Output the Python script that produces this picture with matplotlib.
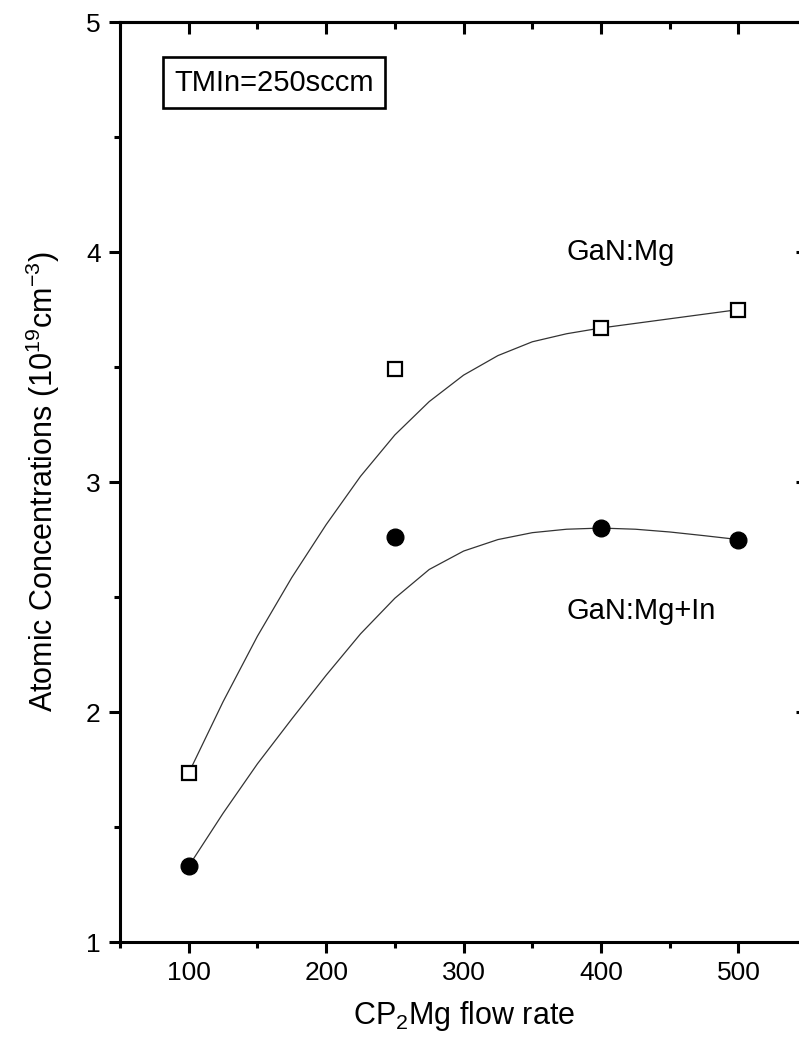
import numpy as np
import matplotlib
matplotlib.use('Agg')
import matplotlib.pyplot as plt

plt.rcParams['font.family'] = ['Liberation Sans', 'DejaVu Sans']
plt.rcParams['mathtext.default'] = 'regular'

# measured points
flow = [100, 250, 400, 500]
gan_mg = [1.735, 3.49, 3.67, 3.75]
gan_mg_in = [1.33, 2.76, 2.80, 2.75]

# smooth guide curves
fit_mg_x = [100, 125, 150, 175, 200, 225, 250, 275, 300, 325, 350, 375, 400, 450, 500]
fit_mg_y = [1.735, 2.045, 2.33, 2.585, 2.815, 3.025, 3.205, 3.35, 3.465, 3.55, 3.61, 3.645, 3.67, 3.71, 3.75]
fit_in_x = [100, 125, 150, 175, 200, 225, 250, 275, 300, 325, 350, 375, 400, 425, 450, 475, 500]
fit_in_y = [1.33, 1.56, 1.775, 1.97, 2.16, 2.34, 2.495, 2.62, 2.70, 2.75, 2.78, 2.795, 2.80,
            2.795, 2.783, 2.767, 2.75]

fig = plt.figure(figsize=(7.99, 10.43), dpi=100)
ax = fig.add_axes([0.1502, 0.0968, 0.86, 0.882])

ax.plot(fit_mg_x, fit_mg_y, '-', color='#333333', lw=0.9)
ax.plot(fit_in_x, fit_in_y, '-', color='#333333', lw=0.9)
ax.plot(flow, gan_mg, 's', ms=10, mfc='white', mec='black', mew=1.6)
ax.plot(flow, gan_mg_in, 'o', ms=12, mfc='black', mec='black')

ax.set_xlim(50, 550)
ax.set_ylim(1, 5)
ax.set_xticks([100, 200, 300, 400, 500])
ax.set_xticks(np.arange(50, 551, 50), minor=True)
ax.set_yticks([1, 2, 3, 4, 5])
ax.set_yticks(np.arange(1, 5.01, 0.5), minor=True)

for s in ax.spines.values():
    s.set_linewidth(2.2)
ax.tick_params(which='both', width=2.2, labelsize=19, direction='out',
               top=False, right=False)
ax.tick_params(which='major', length=8, pad=6)
ax.tick_params(which='minor', length=4.5)

# top / right ticks point inward
sec_x = ax.secondary_xaxis('top')
sec_x.set_xticks([100, 200, 300, 400, 500])
sec_x.set_xticks(np.arange(50, 551, 50), minor=True)
sec_x.tick_params(which='both', direction='in', width=2.2, labeltop=False)
sec_x.tick_params(which='major', length=8.5)
sec_x.tick_params(which='minor', length=5)
sec_x.spines['top'].set_linewidth(2.2)
sec_y = ax.secondary_yaxis('right')
sec_y.set_yticks([1, 2, 3, 4, 5])
sec_y.set_yticks(np.arange(1, 5.01, 0.5), minor=True)
sec_y.tick_params(which='both', direction='in', width=2.2, labelright=False)
sec_y.tick_params(which='major', length=8)
sec_y.tick_params(which='minor', length=4.5)

ax.set_xlabel('CP$_2$Mg flow rate', fontsize=22, labelpad=10)
ax.set_ylabel('Atomic Concentrations (10$^{19}$cm$^{-3}$)', fontsize=22, labelpad=17)

ax.text(414, 4.0, 'GaN:Mg', fontsize=21, ha='center', va='center')
ax.text(429, 2.44, 'GaN:Mg+In', fontsize=21, ha='center', va='center')
ax.text(0.224, 0.934, 'TMIn=250sccm', fontsize=21, ha='center', va='center',
        transform=ax.transAxes,
        bbox=dict(boxstyle='square,pad=0.4', fc='white', ec='black', lw=1.9))

fig.savefig('out.png', dpi=100)
